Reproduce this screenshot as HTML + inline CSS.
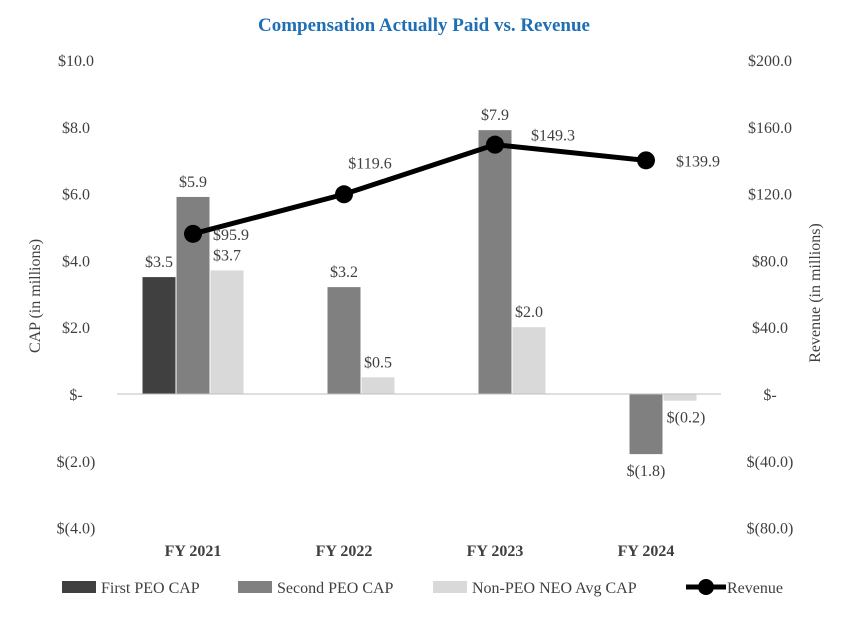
<!DOCTYPE html>
<html><head><meta charset="utf-8"><style>
body{margin:0;background:#fff;}
svg text{font-family:"Liberation Serif",serif;}
</style></head><body>
<svg id="c" width="849" height="615"></svg>
<script>
const categories=["FY 2021","FY 2022","FY 2023","FY 2024"];
const firstPeo=[3.5,null,null,null];
const secondPeo=[5.9,3.2,7.9,-1.8];
const nonPeo=[3.7,0.5,2.0,-0.2];
const revenue=[95.9,119.6,149.3,139.9];
const leftTicks=[10,8,6,4,2,0,-2,-4];
const rightTicks=[200,160,120,80,40,0,-40,-80];
const svg=document.getElementById('c');
const NS='http://www.w3.org/2000/svg';
function el(t,a,txt){const e=document.createElementNS(NS,t);for(const k in a)e.setAttribute(k,a[k]);if(txt!==undefined)e.textContent=txt;svg.appendChild(e);return e;}
const y0=394,yTop=60;
const yL=v=>y0-(v/10)*(y0-yTop);
const yR=v=>y0-(v/200)*(y0-yTop);
const xC=i=>193+i*151;
const bw=33;
const fmt=v=>v===0?'$-':(v<0?'$('+Math.abs(v).toFixed(1)+')':'$'+v.toFixed(1));
let t=el('text',{x:424,y:31,'text-anchor':'middle','font-size':19,'font-weight':'bold',fill:'#1f6fb4'},'Compensation Actually Paid vs. Revenue');

leftTicks.forEach(v=>{const e=el('text',{x:76,y:yL(v)+6,'text-anchor':'middle','font-size':16,fill:'#404040'},fmt(v));});
rightTicks.forEach(v=>{const e=el('text',{x:770,y:yR(v)+6,'text-anchor':'middle','font-size':16,fill:'#404040'},fmt(v));});
t=el('text',{x:40,y:296,'text-anchor':'middle','font-size':16,fill:'#404040',transform:'rotate(-90 40 296)'},'CAP (in millions)');

t=el('text',{x:820,y:293,'text-anchor':'middle','font-size':16,fill:'#404040',transform:'rotate(-90 820 293)'},'Revenue (in millions)');

const series=[[firstPeo,'#404040',-1],[secondPeo,'#808080',0],[nonPeo,'#d9d9d9',1]];
categories.forEach((c,i)=>{
 series.forEach(([arr,col,off])=>{
  const v=arr[i];if(v===null)return;
  const x=xC(i)+off*34-bw/2;
  const r=el('rect',{x:x,y:Math.min(yL(v),y0),width:bw,height:Math.abs(yL(v)-y0),fill:col});
  
  const ly=v>=0?yL(v)-10:yL(v)+22;
  const lx=(v<0&&off===1)?x+bw/2+6:x+bw/2;
  const l=el('text',{x:lx,y:ly,'text-anchor':'middle','font-size':16,fill:'#404040'},fmt(v));
  
 });
 const e=el('text',{x:xC(i),y:556,'text-anchor':'middle','font-size':16,'font-weight':'bold',fill:'#404040'},c);
 
});
const zl=el('line',{x1:117,x2:721,y1:y0,y2:y0,stroke:'#bfbfbf'});

const pl=el('polyline',{points:revenue.map((v,i)=>xC(i)+','+yR(v)).join(' '),fill:'none',stroke:'#000','stroke-width':5});

const lo=[[20,6,'start'],[26,-26,'middle'],[36,-4,'start'],[30,6,'start']];
revenue.forEach((v,i)=>{
 const p=el('circle',{cx:xC(i),cy:yR(v),r:9,fill:'#000'});
 
 const l=el('text',{x:xC(i)+lo[i][0],y:yR(v)+lo[i][1],'text-anchor':lo[i][2],'font-size':16,fill:'#404040'},'$'+v.toFixed(1));
 
});
const leg=[['First PEO CAP','#404040',62],['Second PEO CAP','#808080',238],['Non-PEO NEO Avg CAP','#d9d9d9',433]];
leg.forEach(([n,c,x])=>{
 const r=el('rect',{x:x,y:581,width:34,height:12,fill:c});
 const e=el('text',{x:x+39,y:593,'font-size':16,fill:'#404040'},n);
});
let ll=el('line',{x1:686,x2:726,y1:587,y2:587,stroke:'#000','stroke-width':5});
ll=el('circle',{cx:706,cy:587,r:8,fill:'#000'});
t=el('text',{x:727,y:593,'font-size':16,fill:'#404040'},'Revenue');
</script>
</body></html>
